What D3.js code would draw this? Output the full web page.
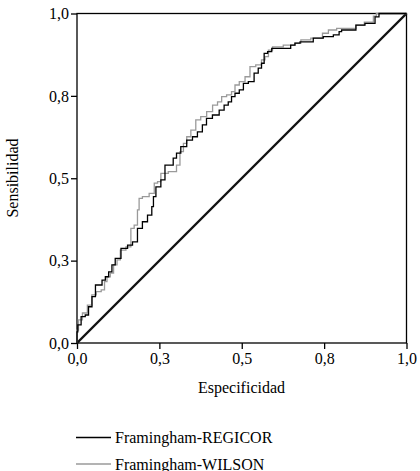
<!DOCTYPE html>
<html><head><meta charset="utf-8">
<script src="https://cdn.jsdelivr.net/npm/d3@7"></script>
<style>body{margin:0;background:#fff}svg{display:block}text{font-family:"Liberation Serif","Times New Roman",serif}</style>
</head><body>
<svg id="c" width="420" height="471"></svg>
<script>
const tickValues = [0, 0.25, 0.5, 0.75, 1];
const tickLabels = ["0,0", "0,3", "0,5", "0,8", "1,0"];
const seriesNames = ["Framingham-REGICOR", "Framingham-WILSON"];
const regicorX = [0,0,0.005,0.020,0.030,0.040,0.051,0.061,0.071,0.081,0.091,0.101,0.111,0.121,0.146,0.161,0.176,0.191,0.206,0.222,0.232,0.232,0.247,0.262,0.272,0.287,0.297,0.307,0.323,0.343,0.358,0.373,0.388,0.398,0.424,0.439,0.454,0.464,0.474,0.485,0.500,0.510,0.530,0.545,0.555,0.565,0.571,0.586,0.596,0.646,0.651,0.672,0.682,0.702,0.732,0.763,0.793,0.798,0.808,0.844,0.849,0.899,0.910,0.923,1];
const regicorY = [0,0.034,0.055,0.080,0.085,0.110,0.141,0.176,0.176,0.191,0.201,0.216,0.237,0.257,0.287,0.297,0.307,0.348,0.368,0.388,0.414,0.444,0.474,0.495,0.540,0.540,0.561,0.576,0.596,0.616,0.626,0.641,0.662,0.682,0.692,0.707,0.722,0.732,0.748,0.758,0.768,0.788,0.793,0.819,0.834,0.849,0.879,0.884,0.894,0.894,0.904,0.910,0.914,0.914,0.925,0.930,0.935,0.945,0.950,0.950,0.965,0.970,0.990,1,1];
const wilsonX = [0,0,0.009,0.024,0.039,0.051,0.066,0.081,0.086,0.096,0.106,0.116,0.127,0.136,0.161,0.166,0.181,0.186,0.191,0.206,0.232,0.237,0.252,0.257,0.297,0.307,0.318,0.328,0.338,0.353,0.368,0.383,0.404,0.419,0.434,0.444,0.464,0.474,0.485,0.500,0.520,0.530,0.555,0.565,0.576,0.586,0.601,0.651,0.672,0.687,0.732,0.758,0.768,0.808,0.844,0.849,0.895,0.904,0.913,1];
const wilsonY = [0,0.039,0.070,0.091,0.115,0.146,0.156,0.161,0.186,0.201,0.212,0.237,0.252,0.282,0.292,0.348,0.358,0.404,0.439,0.444,0.454,0.485,0.490,0.515,0.520,0.540,0.581,0.606,0.626,0.646,0.677,0.687,0.702,0.722,0.732,0.748,0.753,0.763,0.783,0.793,0.808,0.839,0.844,0.859,0.869,0.889,0.899,0.904,0.910,0.920,0.925,0.940,0.950,0.955,0.955,0.965,0.974,0.992,1,1];
const refX = [0, 1];
const refY = [0, 1];

const svg = d3.select("#c");
const x = d3.scaleLinear().domain([0,1]).range([77,406.5]);
const y = d3.scaleLinear().domain([0,1]).range([343,13.5]);
const fmt = d => tickLabels[tickValues.indexOf(d)];

const gx = svg.append("g").attr("transform","translate(0,343)")
  .call(d3.axisBottom(x).tickValues(tickValues).tickFormat(fmt).tickSize(6).tickPadding(4));
const gy = svg.append("g").attr("transform","translate(77,0)")
  .call(d3.axisLeft(y).tickValues(tickValues).tickFormat(fmt).tickSize(6).tickPadding(2));
[gx,gy].forEach(g=>{
  g.select(".domain").remove();
  g.selectAll("line").attr("stroke","#000").attr("stroke-width",1.3);
  g.selectAll("text").attr("font-size",16).attr("fill","#000").attr("font-family","Liberation Serif, serif");
});

svg.append("rect").attr("x",x(0)).attr("y",y(1)).attr("width",x(1)-x(0)).attr("height",y(0)-y(1))
  .attr("fill","none").attr("stroke","#000").attr("stroke-width",1.3);

const line = d3.line().x(d=>x(d[0])).y(d=>y(d[1]));
const stepLine = d3.line().x(d=>x(d[0])).y(d=>y(d[1])).curve(d3.curveStep);
const zip = (a,b) => a.map((v,i)=>[v,b[i]]);

svg.append("path").attr("d",line(zip(refX,refY))).attr("fill","none").attr("stroke","#111").attr("stroke-width",2.4);
svg.append("path").attr("d",stepLine(zip(wilsonX,wilsonY))).attr("fill","none").attr("stroke","#9a9a9a").attr("stroke-width",1.3);
svg.append("path").attr("d",stepLine(zip(regicorX,regicorY))).attr("fill","none").attr("stroke","#000").attr("stroke-width",1.3);

svg.append("text").attr("x",241.5).attr("y",393).attr("text-anchor","middle").attr("font-size",16).text("Especificidad");
svg.append("text").attr("transform","translate(18,178) rotate(-90)").attr("text-anchor","middle").attr("font-size",16).text("Sensibilidad");

const legColors = ["#000","#9a9a9a"];
seriesNames.forEach((n,i)=>{
  const ly = 437.5 + i*26.5;
  svg.append("line").attr("x1",76).attr("x2",111).attr("y1",ly).attr("y2",ly).attr("stroke",legColors[i]).attr("stroke-width",1.3);
  svg.append("text").attr("x",115).attr("y",ly+5.5).attr("font-size",16).text(n);
});
</script>
</body></html>
